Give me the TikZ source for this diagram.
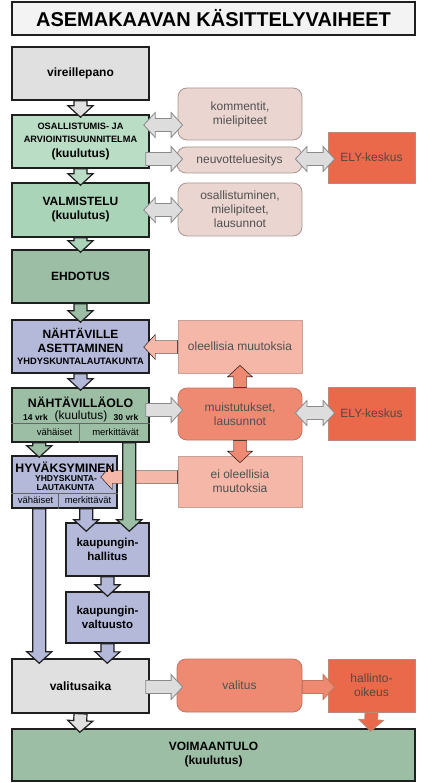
\documentclass[tikz,border=0pt]{standalone}
\usepackage{fontspec}
\setmainfont{Liberation Sans}
\usetikzlibrary{calc}
\definecolor{titlefill}{HTML}{F3F3F3}
\definecolor{grayfill}{HTML}{E0E0E0}
\definecolor{gA}{HTML}{BADDC5}
\definecolor{gB}{HTML}{A9D4B8}
\definecolor{gC}{HTML}{9CBEA5}
\definecolor{lav}{HTML}{B4B9DA}
\definecolor{pinkg}{HTML}{EBD5D0}
\definecolor{pinkgb}{HTML}{A89793}
\definecolor{salL}{HTML}{F4B7A8}
\definecolor{salLb}{HTML}{C9A096}
\definecolor{salM}{HTML}{EF8A72}
\definecolor{salMb}{HTML}{C27462}
\definecolor{oran}{HTML}{E9694A}
\definecolor{oranb}{HTML}{B98A7A}
\definecolor{argray}{HTML}{DDDDDD}
\definecolor{argrayb}{HTML}{8A8A8A}
\definecolor{rtext}{HTML}{505050}
\definecolor{otext}{HTML}{5B4640}
\def\bsw{6.5pt}
\def\bhw{12.5pt}
\def\bhl{11.5pt}
\newcommand\barrow[3][]{%
 \draw[#1] let \p1=(#2), \p2=(#3), \n1={veclen(\x2-\x1,\y2-\y1)},
  \n2={(\x2-\x1)/\n1}, \n3={(\y2-\y1)/\n1} in
  ({\x1-\bsw*\n3},{\y1+\bsw*\n2})
  -- ({\x2-\bhl*\n2-\bsw*\n3},{\y2-\bhl*\n3+\bsw*\n2})
  -- ({\x2-\bhl*\n2-\bhw*\n3},{\y2-\bhl*\n3+\bhw*\n2})
  -- (\x2,\y2)
  -- ({\x2-\bhl*\n2+\bhw*\n3},{\y2-\bhl*\n3-\bhw*\n2})
  -- ({\x2-\bhl*\n2+\bsw*\n3},{\y2-\bhl*\n3-\bsw*\n2})
  -- ({\x1+\bsw*\n3},{\y1-\bsw*\n2}) -- cycle;}
\newcommand\dbarrow[3][]{%
 \draw[#1] let \p1=(#2), \p2=(#3), \n1={veclen(\x2-\x1,\y2-\y1)},
  \n2={(\x2-\x1)/\n1}, \n3={(\y2-\y1)/\n1} in
  (\x1,\y1)
  -- ({\x1+\bhl*\n2-\bhw*\n3},{\y1+\bhl*\n3+\bhw*\n2})
  -- ({\x1+\bhl*\n2-\bsw*\n3},{\y1+\bhl*\n3+\bsw*\n2})
  -- ({\x2-\bhl*\n2-\bsw*\n3},{\y2-\bhl*\n3+\bsw*\n2})
  -- ({\x2-\bhl*\n2-\bhw*\n3},{\y2-\bhl*\n3+\bhw*\n2})
  -- (\x2,\y2)
  -- ({\x2-\bhl*\n2+\bhw*\n3},{\y2-\bhl*\n3-\bhw*\n2})
  -- ({\x2-\bhl*\n2+\bsw*\n3},{\y2-\bhl*\n3-\bsw*\n2})
  -- ({\x1+\bhl*\n2+\bsw*\n3},{\y1+\bhl*\n3-\bsw*\n2})
  -- ({\x1+\bhl*\n2+\bhw*\n3},{\y1+\bhl*\n3-\bhw*\n2}) -- cycle;}
\tikzset{
 lbox/.style={draw=black!88, line width=1.5pt, inner sep=0pt, align=center,
   font=\bfseries\fontsize{12}{14}\selectfont},
 rbox/.style={draw=pinkgb, line width=0.8pt, inner sep=0pt, align=center,
   text=rtext, font=\fontsize{12}{14}\selectfont},
 rnd/.style={rounded corners=9pt},
 sz/.style 2 args={minimum width=#1pt, minimum height=#2pt},
 larrow/.style={draw=black!88, line width=1.2pt, line join=miter},
 garrow/.style={fill=argray, draw=argrayb, line width=0.8pt},
 inl/.style={draw=black!60, line width=0.6pt},
 small/.style={inner sep=0pt, font=\bfseries\fontsize{8.5}{9.5}\selectfont},
 tiny/.style={inner sep=0pt, font=\fontsize{9.5}{10.5}\selectfont},
}
\begin{document}
\begin{tikzpicture}[x=1pt,y=-1pt]
\useasboundingbox (0,0) rectangle (436,783);
\fill[white] (0,0) rectangle (436,783);
% title
\node[lbox, fill=titlefill, sz={403}{33}, font=\bfseries\fontsize{20}{24}\selectfont] (title) at (213.5,18.5) {ASEMAKAAVAN KÄSITTELYVAIHEET};
% left column
\node[lbox, fill=grayfill, sz={137}{53}] (vire) at (80.5,73.5) {vireillepano};
\node[lbox, fill=gA, sz={137}{53}] (oas) at (80.5,141.5) {\fontsize{9.2}{10.8}\selectfont OSALLISTUMIS- JA\\[-0.5pt]\fontsize{9.2}{10.8}\selectfont ARVIOINTISUUNNITELMA\\[1pt]\fontsize{12}{13}\selectfont(kuulutus)};
\node[lbox, fill=gB, sz={137}{54}] (valm) at (80.5,210) {VALMISTELU\\(kuulutus)};
\node[lbox, fill=gC, sz={137}{53}] (ehd) at (80.5,276.5) {EHDOTUS};
\node[lbox, fill=lav, sz={137}{53}, font=\bfseries\fontsize{12}{14}\selectfont] (naht) at (80.5,346.5) {NÄHTÄVILLE\\ASETTAMINEN\\[-1.5pt]\fontsize{9.3}{10}\selectfont YHDYSKUNTALAUTAKUNTA};
\node[lbox, fill=gC, sz={137}{54}] (nolo) at (80.5,415) {};
\node[lbox, fill=lav, sz={105}{52}] (hyv) at (64.5,482) {};
\node[lbox, fill=lav, sz={83}{53}, font=\bfseries\fontsize{11.5}{14}\selectfont] (khal) at (107.5,549.5) {kaupungin-\\hallitus};
\node[lbox, fill=lav, sz={83}{51}, font=\bfseries\fontsize{11.5}{14}\selectfont] (kval) at (107.5,617.5) {kaupungin-\\valtuusto};
\node[lbox, fill=grayfill, sz={137}{54}] (vali) at (80.5,686) {valitusaika};
\node[lbox, fill=gC, sz={403}{52}] (voim) at (213.5,755) {VOIMAANTULO\\(kuulutus)};
% right column
\node[rbox, rnd, fill=pinkg, sz={124}{52}] (komm) at (240,114) {kommentit,\\mielipiteet};
\node[rbox, rnd, fill=pinkg, sz={125}{26}] (neuv) at (239.5,160) {neuvotteluesitys};
\node[rbox, fill=oran, draw=oranb, text=otext, sz={87}{51}] (ely1) at (371.5,157.5) {ELY-keskus};
\node[rbox, rnd, fill=pinkg, sz={124}{53}] (osal) at (240,209.5) {osallistuminen,\\mielipiteet,\\lausunnot};
\node[rbox, fill=salL, draw=salLb, sz={124}{53}] (olee) at (240,346.5) {oleellisia muutoksia};
\node[rbox, rnd, fill=salM, draw=salMb, sz={124}{52}] (muis) at (240,414) {muistutukset,\\lausunnot};
\node[rbox, fill=oran, draw=oranb, text=otext, sz={87}{53}] (ely2) at (371.5,413.5) {ELY-keskus};
\node[rbox, fill=salL, draw=salLb, sz={124}{51}] (eiol) at (240,481.5) {ei oleellisia\\muutoksia};
\node[rbox, rnd, fill=salM, draw=salMb, sz={125}{53}] (valt) at (239.5,685.5) {valitus};
\node[rbox, fill=oran, draw=oranb, text=otext, sz={87}{53}] (hall) at (371.5,685.5) {hallinto-\\oikeus};
% inner divisions
\draw[inl] (nolo.west |- 0,423) coordinate (n1) -- (nolo.east |- 0,423) coordinate (n2);
\draw[inl] ($(nolo.south west)+(68,0)$) coordinate (n3) -- ($(nolo.south west)+(68,-19)$) coordinate (n4);
\draw[inl] (hyv.west |- 0,493) coordinate (h1) -- (hyv.east |- 0,493) coordinate (h2);
\draw[inl] ($(hyv.south west)+(47,0)$) coordinate (h3) -- ($(hyv.south west)+(47,-15)$) coordinate (h4);
\node[font=\bfseries\fontsize{12.3}{14}\selectfont, inner sep=0pt] (noloT) at (80.5,402) {NÄHTÄVILLÄOLO};
\node[small] (n14) at (35.5,417.5) {14 vrk};
\node[inner sep=0pt, font=\fontsize{12}{14}\selectfont] (nkuul) at (81,416.5) {(kuulutus)};
\node[small] (n30) at (126,417.5) {30 vrk};
\node[tiny] (nvah) at (54.5,432.5) {vähäiset};
\node[tiny] (nmer) at (115.5,432.5) {merkittävät};
% arrows (right side)
\dbarrow[garrow]{$(oas.east)+(-6,-16.5)$}{$(komm.west)+(5,11)$}
\barrow[garrow]{$(oas.east)+(-4,17.5)$}{$(neuv.west)+(6,-1)$}
\dbarrow[garrow]{$(neuv.east)+(-7,-1)$}{$(ely1.west)+(7,1.5)$}
\dbarrow[garrow]{$(valm.east)+(-6,0)$}{$(osal.west)+(5,0.5)$}
\barrow[fill=salL]{$(olee.west)+(0,0.5)$}{$(naht.east)+(-6,0.5)$}
\barrow[fill=salM]{muis.north}{$(olee.south)+(0,-8)$}
\barrow[fill=salM]{muis.south}{$(eiol.north)+(0,7)$}
\barrow[garrow]{$(nolo.east)+(-4,-5)$}{$(muis.west)+(5,-4)$}
\dbarrow[garrow]{$(muis.east)+(-7,-1)$}{$(ely2.west)+(7,-0.5)$}
\barrow[fill=salL]{$(eiol.west)+(0,-4.5)$}{$(hyv.east)+(-17,-5)$}
\barrow[garrow]{$(vali.east)+(-4,1)$}{$(valt.west)+(6,1.5)$}
\barrow[fill=salM, draw=salMb, line width=0.8pt]{$(valt.east)+(0,1.5)$}{$(hall.west)+(7,1.5)$}
\barrow[fill=oran, draw=oranb, line width=0.8pt]{hall.south}{$(voim.north west)+(359.5,3)$}
% arrows (left column)
\barrow[larrow, fill=grayfill]{vire.south}{$(oas.north)+(0,3)$}
\barrow[larrow, fill=gA]{oas.south}{$(valm.north)+(0,3)$}
\barrow[larrow, fill=gB]{valm.south}{$(ehd.north)+(0,3)$}
\barrow[larrow, fill=gC]{ehd.south}{$(naht.north)+(0,3)$}
\barrow[larrow, fill=lav]{naht.south}{$(nolo.north)+(0,3)$}
\barrow[larrow, fill=gC]{$(nolo.south west)+(28,0)$}{$(hyv.north west)+(28,2)$}
\barrow[larrow, fill=gC]{$(nolo.south west)+(118,0)$}{$(khal.north west)+(64,9)$}
\barrow[larrow, fill=lav]{$(hyv.south west)+(28,0)$}{$(vali.north west)+(28,5)$}
\barrow[larrow, fill=lav]{$(hyv.south west)+(75,0)$}{$(khal.north west)+(21,9)$}
\barrow[larrow, fill=lav]{khal.south}{$(kval.north)+(0,5)$}
\barrow[larrow, fill=lav]{kval.south}{$(vali.north west)+(96,5)$}
\barrow[larrow, fill=grayfill]{vali.south}{$(voim.north west)+(68.5,4)$}
% HYVÄKSYMINEN texts on top
\node[font=\bfseries\fontsize{12.3}{14}\selectfont, inner sep=0pt] (hyvT) at (65,467) {HYVÄKSYMINEN};
\node[inner sep=0pt, font=\bfseries\fontsize{8.6}{9}\selectfont] (hyv1) at (66,479) {YHDYSKUNTA-};
\node[inner sep=0pt, font=\bfseries\fontsize{8.6}{9}\selectfont] (hyv2) at (65.5,488) {LAUTAKUNTA};
\node[tiny] (hvah) at (35.5,500.5) {vähäiset};
\node[tiny] (hmer) at (88,500.5) {merkittävät};
\end{tikzpicture}
\end{document}
